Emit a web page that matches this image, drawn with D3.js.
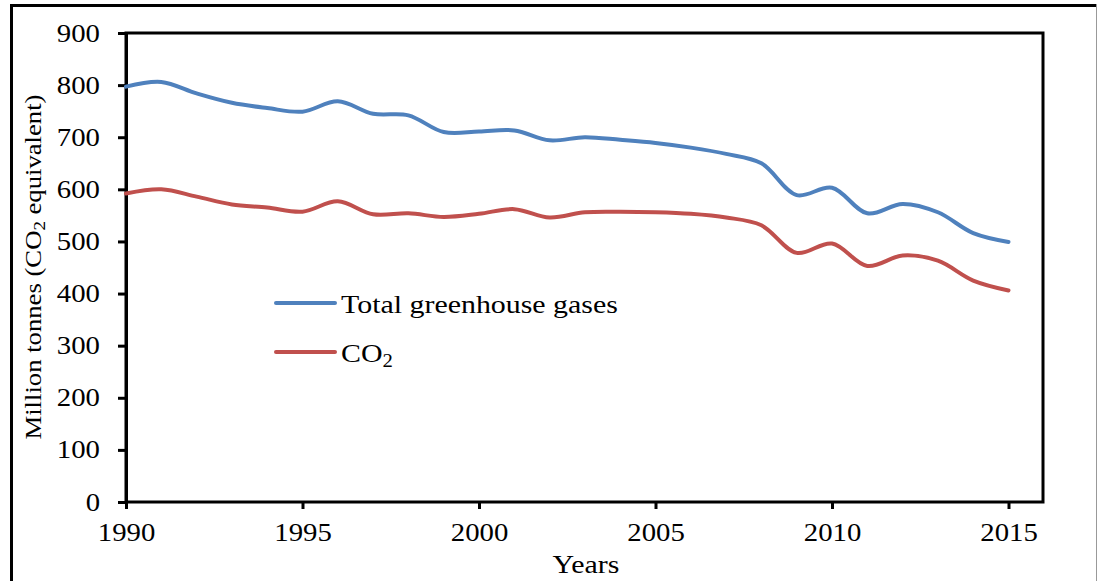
<!DOCTYPE html>
<html>
<head>
<meta charset="utf-8">
<script src="https://cdn.jsdelivr.net/npm/d3@7"></script>
<style>
  html, body { margin: 0; padding: 0; background: #fff; }
  svg { display: block; font-family: "Liberation Serif", "Times New Roman", serif; }
</style>
</head>
<body>
<svg id="chart" width="1097" height="581"></svg>
<script>
// Annual emissions, million tonnes CO2 equivalent
const years = d3.range(1990, 2016);
const totalGHG = [797, 806, 784, 766, 756, 749, 769, 745, 742, 710, 711, 713, 694, 700, 695, 689, 680, 668, 650, 589, 603, 554, 572, 556, 516, 499];
const co2 = [592, 600, 586, 571, 565, 557, 577, 552, 554, 547, 553, 562, 546, 556, 557, 556, 553, 546, 531, 478, 496, 453, 473, 463, 425, 406];
const yTicks = [0, 100, 200, 300, 400, 500, 600, 700, 800, 900];
const xTicks = [1990, 1995, 2000, 2005, 2010, 2015];
const seriesNames = ["Total greenhouse gases", "CO2"];
const seriesColors = ["#4F81BD", "#C0504D"];

const FONT = "Liberation Serif, Times New Roman, serif";
const WIDEN = 1.15; // glyphs are drawn slightly wide

// Widen text horizontally by a factor, keeping its anchor
function widen(sel, k) {
  sel.each(function () {
    const len = this.getComputedTextLength();
    d3.select(this).attr("textLength", len * k).attr("lengthAdjust", "spacingAndGlyphs");
  });
}

const svg = d3.select("#chart");

// Outer frame of the figure
svg.append("line").attr("x1", 11).attr("x2", 1097).attr("y1", 5.5).attr("y2", 5.5)
  .attr("stroke", "#000").attr("stroke-width", 3);
svg.append("line").attr("x1", 11.5).attr("x2", 11.5).attr("y1", 4).attr("y2", 581)
  .attr("stroke", "#000").attr("stroke-width", 3);
svg.append("line").attr("x1", 1096.5).attr("x2", 1096.5).attr("y1", 4).attr("y2", 581)
  .attr("stroke", "#999").attr("stroke-width", 1);

const plot = { left: 126, right: 1043, top: 33, bottom: 502 };

const x = d3.scaleLinear()
  .domain([1990, 1990 + (plot.right - plot.left) / ((1008.5 - 126) / 25)])
  .range([plot.left, plot.right]);
const y = d3.scaleLinear().domain([0, 900]).range([plot.bottom, plot.top]);

// Plot area border
svg.append("rect")
  .attr("x", plot.left).attr("y", plot.top)
  .attr("width", plot.right - plot.left).attr("height", plot.bottom - plot.top)
  .attr("fill", "none").attr("stroke", "#000").attr("stroke-width", 3);

// Y axis
const yAxis = svg.append("g")
  .attr("transform", `translate(${plot.left},0)`)
  .call(d3.axisLeft(y).tickValues(yTicks).tickSize(8).tickPadding(18));
yAxis.attr("font-family", FONT).attr("font-size", 25);
yAxis.select(".domain").attr("stroke-width", 3);
yAxis.selectAll(".tick line").attr("stroke-width", 3);
yAxis.selectAll(".tick text").attr("fill", "#000").call(widen, WIDEN);

// X axis
const xAxis = svg.append("g")
  .attr("transform", `translate(0,${plot.bottom})`)
  .call(d3.axisBottom(x).tickValues(xTicks).tickFormat(d3.format("d")).tickSize(7).tickPadding(14));
xAxis.attr("font-family", FONT).attr("font-size", 25);
xAxis.select(".domain").remove();
xAxis.selectAll(".tick line").attr("stroke-width", 3);
xAxis.selectAll(".tick text").attr("fill", "#000").call(widen, WIDEN);

// Smoothed series lines
const line = d3.line()
  .x((d, i) => x(years[i]))
  .y(d => y(d))
  .curve(d3.curveCatmullRom.alpha(0.5));

[totalGHG, co2].forEach((vals, k) => {
  svg.append("path")
    .datum(vals)
    .attr("d", line)
    .attr("fill", "none")
    .attr("stroke", seriesColors[k])
    .attr("stroke-width", 4)
    .attr("stroke-linecap", "round")
    .attr("stroke-linejoin", "round");
});

// Legend
const legendRows = [303, 352];
seriesNames.forEach((name, k) => {
  const g = svg.append("g");
  g.append("line")
    .attr("x1", 276).attr("x2", 335)
    .attr("y1", legendRows[k]).attr("y2", legendRows[k])
    .attr("stroke", seriesColors[k]).attr("stroke-width", 4)
    .attr("stroke-linecap", "round");
  const t = g.append("text")
    .attr("x", 341).attr("y", legendRows[k] + 10)
    .attr("font-family", FONT)
    .attr("font-size", 26).attr("fill", "#000");
  if (name === "CO2") {
    t.append("tspan").text("CO");
    t.append("tspan").attr("font-size", 18).attr("dy", 5).text("2");
  } else {
    t.text(name);
  }
  widen(t, WIDEN);
});

// Axis titles
svg.append("text")
  .attr("x", 586).attr("y", 573)
  .attr("text-anchor", "middle")
  .attr("font-family", FONT)
  .attr("font-size", 26).attr("fill", "#000")
  .text("Years")
  .call(widen, WIDEN);

const yt = svg.append("text")
  .attr("transform", "translate(41,267) rotate(-90)")
  .attr("text-anchor", "middle")
  .attr("font-family", FONT)
  .attr("font-size", 24).attr("fill", "#000");
yt.append("tspan").text("Million tonnes (CO");
yt.append("tspan").attr("font-size", 17).attr("dy", 4).text("2");
yt.append("tspan").attr("dy", -4).text(" equivalent)");
yt.attr("textLength", 345).attr("lengthAdjust", "spacingAndGlyphs");
</script>
</body>
</html>
